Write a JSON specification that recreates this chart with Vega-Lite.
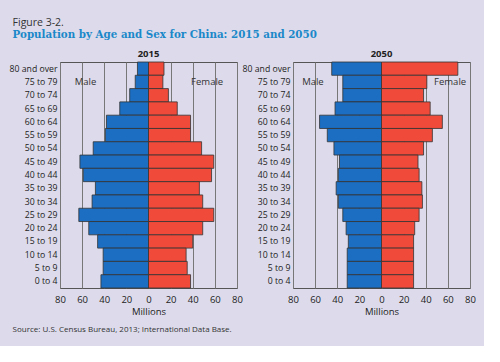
{
  "$schema": "https://vega.github.io/schema/vega-lite/v6.json",
  "background": "#dddbeb",
  "padding": {"left": 8, "top": 17, "right": 8, "bottom": 12},
  "title": {
    "text": "Figure 3-2.",
    "subtitle": "Population by Age and Sex for China: 2015 and 2050",
    "anchor": "start",
    "dx": 4,
    "font": "Open Sans",
    "fontSize": 10.5,
    "fontWeight": "normal",
    "color": "#333333",
    "subtitleFont": "DejaVu Serif",
    "subtitleFontSize": 10.3,
    "subtitleFontWeight": "bold",
    "subtitleColor": "#1a88c9",
    "subtitlePadding": 2,
    "offset": 8
  },
  "vconcat": [
    {
      "title": {
        "text": "Source: U.S. Census Bureau, 2013; International Data Base.",
        "orient": "bottom",
        "anchor": "start",
        "dx": 4,
        "font": "Open Sans",
        "fontSize": 8,
        "fontWeight": "normal",
        "color": "#333333",
        "offset": 10
      },
      "data": {
        "values": [
          {"year": 2015, "age": "80 and over", "sex": "Male", "pop": 10},
          {"year": 2015, "age": "80 and over", "sex": "Female", "pop": 14},
          {"year": 2015, "age": "75 to 79", "sex": "Male", "pop": 12},
          {"year": 2015, "age": "75 to 79", "sex": "Female", "pop": 13},
          {"year": 2015, "age": "70 to 74", "sex": "Male", "pop": 17},
          {"year": 2015, "age": "70 to 74", "sex": "Female", "pop": 18},
          {"year": 2015, "age": "65 to 69", "sex": "Male", "pop": 26},
          {"year": 2015, "age": "65 to 69", "sex": "Female", "pop": 26},
          {"year": 2015, "age": "60 to 64", "sex": "Male", "pop": 38},
          {"year": 2015, "age": "60 to 64", "sex": "Female", "pop": 38},
          {"year": 2015, "age": "55 to 59", "sex": "Male", "pop": 39},
          {"year": 2015, "age": "55 to 59", "sex": "Female", "pop": 38},
          {"year": 2015, "age": "50 to 54", "sex": "Male", "pop": 50},
          {"year": 2015, "age": "50 to 54", "sex": "Female", "pop": 48},
          {"year": 2015, "age": "45 to 49", "sex": "Male", "pop": 62},
          {"year": 2015, "age": "45 to 49", "sex": "Female", "pop": 59},
          {"year": 2015, "age": "40 to 44", "sex": "Male", "pop": 59},
          {"year": 2015, "age": "40 to 44", "sex": "Female", "pop": 57},
          {"year": 2015, "age": "35 to 39", "sex": "Male", "pop": 48},
          {"year": 2015, "age": "35 to 39", "sex": "Female", "pop": 46},
          {"year": 2015, "age": "30 to 34", "sex": "Male", "pop": 51},
          {"year": 2015, "age": "30 to 34", "sex": "Female", "pop": 49},
          {"year": 2015, "age": "25 to 29", "sex": "Male", "pop": 63},
          {"year": 2015, "age": "25 to 29", "sex": "Female", "pop": 59},
          {"year": 2015, "age": "20 to 24", "sex": "Male", "pop": 54},
          {"year": 2015, "age": "20 to 24", "sex": "Female", "pop": 49},
          {"year": 2015, "age": "15 to 19", "sex": "Male", "pop": 46},
          {"year": 2015, "age": "15 to 19", "sex": "Female", "pop": 40},
          {"year": 2015, "age": "10 to 14", "sex": "Male", "pop": 41},
          {"year": 2015, "age": "10 to 14", "sex": "Female", "pop": 34},
          {"year": 2015, "age": "5 to 9", "sex": "Male", "pop": 41},
          {"year": 2015, "age": "5 to 9", "sex": "Female", "pop": 35},
          {"year": 2015, "age": "0 to 4", "sex": "Male", "pop": 43},
          {"year": 2015, "age": "0 to 4", "sex": "Female", "pop": 38},
          {"year": 2050, "age": "80 and over", "sex": "Male", "pop": 45},
          {"year": 2050, "age": "80 and over", "sex": "Female", "pop": 69},
          {"year": 2050, "age": "75 to 79", "sex": "Male", "pop": 35},
          {"year": 2050, "age": "75 to 79", "sex": "Female", "pop": 41},
          {"year": 2050, "age": "70 to 74", "sex": "Male", "pop": 35},
          {"year": 2050, "age": "70 to 74", "sex": "Female", "pop": 38},
          {"year": 2050, "age": "65 to 69", "sex": "Male", "pop": 42},
          {"year": 2050, "age": "65 to 69", "sex": "Female", "pop": 44},
          {"year": 2050, "age": "60 to 64", "sex": "Male", "pop": 56},
          {"year": 2050, "age": "60 to 64", "sex": "Female", "pop": 55},
          {"year": 2050, "age": "55 to 59", "sex": "Male", "pop": 49},
          {"year": 2050, "age": "55 to 59", "sex": "Female", "pop": 46},
          {"year": 2050, "age": "50 to 54", "sex": "Male", "pop": 43},
          {"year": 2050, "age": "50 to 54", "sex": "Female", "pop": 38},
          {"year": 2050, "age": "45 to 49", "sex": "Male", "pop": 38},
          {"year": 2050, "age": "45 to 49", "sex": "Female", "pop": 33},
          {"year": 2050, "age": "40 to 44", "sex": "Male", "pop": 39},
          {"year": 2050, "age": "40 to 44", "sex": "Female", "pop": 34},
          {"year": 2050, "age": "35 to 39", "sex": "Male", "pop": 41},
          {"year": 2050, "age": "35 to 39", "sex": "Female", "pop": 36.5},
          {"year": 2050, "age": "30 to 34", "sex": "Male", "pop": 39},
          {"year": 2050, "age": "30 to 34", "sex": "Female", "pop": 37},
          {"year": 2050, "age": "25 to 29", "sex": "Male", "pop": 35},
          {"year": 2050, "age": "25 to 29", "sex": "Female", "pop": 34},
          {"year": 2050, "age": "20 to 24", "sex": "Male", "pop": 32},
          {"year": 2050, "age": "20 to 24", "sex": "Female", "pop": 30},
          {"year": 2050, "age": "15 to 19", "sex": "Male", "pop": 30},
          {"year": 2050, "age": "15 to 19", "sex": "Female", "pop": 29},
          {"year": 2050, "age": "10 to 14", "sex": "Male", "pop": 31},
          {"year": 2050, "age": "10 to 14", "sex": "Female", "pop": 29},
          {"year": 2050, "age": "5 to 9", "sex": "Male", "pop": 31},
          {"year": 2050, "age": "5 to 9", "sex": "Female", "pop": 29},
          {"year": 2050, "age": "0 to 4", "sex": "Male", "pop": 31},
          {"year": 2050, "age": "0 to 4", "sex": "Female", "pop": 29},
          {"year": 2015, "age": "75 to 79", "label": "Male", "lx": -57},
          {"year": 2015, "age": "75 to 79", "label": "Female", "lx": 53},
          {"year": 2050, "age": "75 to 79", "label": "Male", "lx": -62},
          {"year": 2050, "age": "75 to 79", "label": "Female", "lx": 62}
        ]
      },
      "facet": {
        "column": {
          "field": "year",
          "type": "ordinal",
          "header": {
            "title": null,
            "labelFont": "Open Sans",
            "labelFontSize": 9.5,
            "labelFontWeight": "bold",
            "labelColor": "#222222",
            "labelPadding": 3
          }
        }
      },
      "spacing": 3,
      "resolve": {"axis": {"y": "independent"}},
      "spec": {
        "width": 177,
        "height": 226,
        "transform": [
          {"calculate": "datum.label != null ? datum.lx : (datum.sex == 'Male' ? -datum.pop : datum.pop)", "as": "value"}
        ],
        "encoding": {
          "y": {
            "field": "age",
            "type": "nominal",
            "sort": ["80 and over", "75 to 79", "70 to 74", "65 to 69", "60 to 64", "55 to 59", "50 to 54", "45 to 49", "40 to 44", "35 to 39", "30 to 34", "25 to 29", "20 to 24", "15 to 19", "10 to 14", "5 to 9", "0 to 4"],
            "scale": {"paddingInner": 0, "paddingOuter": 0},
            "axis": {"title": null, "ticks": false, "domain": false, "labelPadding": 3, "grid": false, "labelFontSize": 8.7}
          },
          "x": {
            "field": "value",
            "type": "quantitative",
            "scale": {"domain": [-80, 80], "nice": false},
            "axis": {
              "values": [-80, -60, -40, -20, 0, 20, 40, 60, 80],
              "labelExpr": "abs(datum.value)",
              "labelOverlap": false,
              "labelFlush": false,
              "title": "Millions",
              "ticks": false,
              "domain": false,
              "grid": true,
              "labelPadding": 5,
              "titlePadding": 3
            }
          }
        },
        "layer": [
          {
            "transform": [{"filter": "datum.pop != null"}],
            "mark": {"type": "bar", "stroke": "#333333", "strokeWidth": 0.8},
            "encoding": {
              "color": {
                "field": "sex",
                "type": "nominal",
                "scale": {"domain": ["Male", "Female"], "range": ["#1b6ec2", "#ef4a3a"]},
                "legend": null
              }
            }
          },
          {
            "transform": [{"filter": "datum.label != null"}],
            "mark": {"type": "text", "font": "Open Sans", "fontSize": 9.5, "color": "#333333"},
            "encoding": {
              "text": {"field": "label"}
            }
          }
        ]
      }
    }
  ],
  "config": {
    "view": {"stroke": "#555555", "strokeWidth": 1},
    "axis": {
      "labelFont": "Open Sans",
      "labelFontSize": 9.5,
      "labelColor": "#222222",
      "titleFont": "Open Sans",
      "titleFontSize": 9.5,
      "titleFontWeight": "normal",
      "titleColor": "#222222",
      "gridColor": "#777777",
      "gridOpacity": 1,
      "gridWidth": 1
    }
  }
}
